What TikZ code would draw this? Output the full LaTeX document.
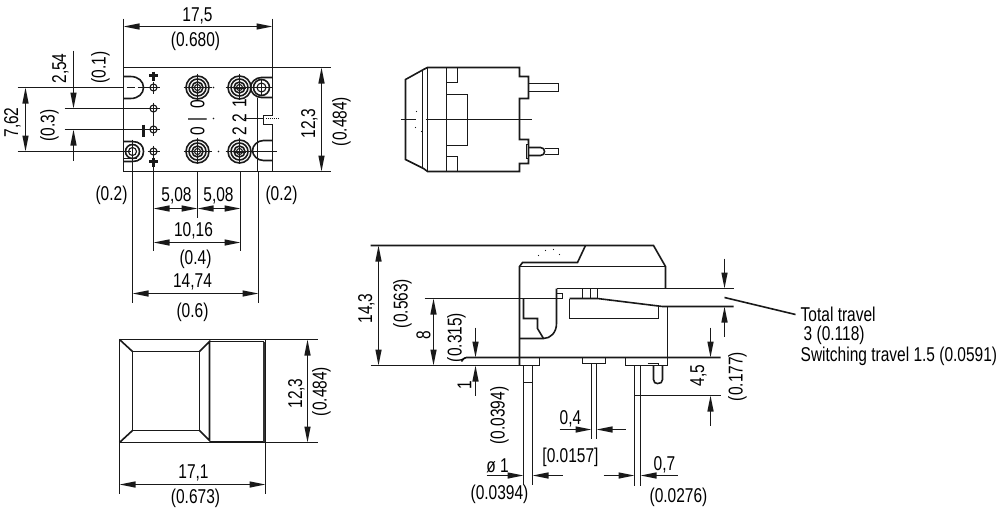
\documentclass[tikz,border=0pt]{standalone}
\usepackage{fontspec}
\setmainfont{Liberation Sans}[FakeStretch=0.775]
\usetikzlibrary{arrows.meta}
\tikzset{
  x=1pt,y=-1pt,
  outline/.style={line width=1.6pt,black!90,line join=miter},
  thin part/.style={line width=1.1pt,black!90},
  dimline/.style={line width=1.35pt,black!90},
  dimarrow/.style={line width=1.35pt,black!90,-{Triangle[length=16pt,width=6pt]}},
  dimboth/.style={line width=1.35pt,black!90,{Triangle[length=16pt,width=6pt]}-{Triangle[length=16pt,width=6pt]}},
  lbl/.style={inner sep=0pt,font=\fontsize{20}{22}\selectfont,text=black},
  vlbl/.style={lbl,rotate=90}
}
\newcommand{\bigterm}[2]{%
  \draw[outline] (#1,#2) circle[radius=11.5pt] (#1,#2) circle[radius=8.5pt] (#1,#2) circle[radius=5.5pt];
  \draw[thin part] (#1,#2) circle[radius=3pt];
  \draw[thin part] (#1-14,#2)--(#1+14,#2) (#1,#2-14)--(#1,#2+12);}
\newcommand{\smallterm}[2]{%
  \draw[thin part] (#1,#2) circle[radius=3.5pt];
  \draw[thin part] (#1-6,#2)--(#1+6,#2) (#1,#2-6)--(#1,#2+6);}
\begin{document}
\begin{tikzpicture}
\useasboundingbox (0,0) rectangle (1000,514);
\begin{scope}[shift={(0.5,0.5)}]
% ---- top view: frame and extension lines
\draw[outline] (123,18)--(123,171)--(330,171);
\draw[outline] (123,67)--(330,67);
\draw[outline] (272,18)--(272,115)--(262,115);
\draw[outline] (272,124)--(262,124);
\draw[outline] (272,124)--(272,171);
\draw[dimboth] (123,26)--(272,26);
\draw[dimboth] (321,67)--(321,171);
\node[lbl] (t175) at (197,15) {17,5};
\node[lbl] (t680) at (195,41) {(0.680)};
\node[vlbl] (t123a) at (309,123) {12,3};
\node[vlbl] (t484a) at (341,121) {(0.484)};
% left dimensions
\draw[dimline] (17,87)--(117,87) (17,151)--(130,151);
\draw[dimboth] (25,87)--(25,151);
\node[vlbl] (t762) at (12,122) {7,62};
\node[vlbl] (t03) at (49,125) {(0.3)};
\draw[dimline] (64,108)--(153,108) (64,129)--(150,129);
\draw[dimarrow] (73,50)--(73,108);
\draw[dimarrow] (73,160)--(73,129);
\node[vlbl] (t254) at (60,68) {2,54};
\node[vlbl] (t01) at (100,67) {(0.1)};
% left slots
\draw[outline] (123,76)--(130,76) .. controls (138,76) and (143,81) .. (143,87) .. controls (143,93) and (138,98) .. (130,98)--(123,98);
\draw[thin part] (117,87)--(122,87) (126,87)--(134,87) (137,87)--(147,87);
\draw[outline] (123,141)--(132,141) .. controls (139,141) and (143,145) .. (143,151) .. controls (143,157) and (139,161) .. (132,161)--(123,161);
\draw[thin part] (123,158)--(136,158);
\draw[outline] (132,151) circle[radius=7pt];
\draw[thin part] (132,151) circle[radius=4pt];
\draw[thin part] (132,139)--(132,171);
% small contacts
\smallterm{153}{87}\smallterm{153}{108}\smallterm{153}{129}\smallterm{153}{151}
\draw[outline] (153,108)--(153,129);
\draw[line width=3pt,black!90] (153,71)--(153,80) (148.5,75)--(157.5,75);
\draw[line width=3pt,black!90] (153,157)--(153,166) (148.5,161)--(157.5,161);
\draw[line width=3.5pt,black!90] (143,124)--(143,136);
% big terminals
\bigterm{197}{87}\bigterm{197}{151}\bigterm{239}{87}\bigterm{239}{151}
\draw[line width=2pt,black!90] (233,87)--(245,87) (233,151)--(245,151);
\fill[black!90] (213,87) circle[radius=.8pt] (218,151) circle[radius=.8pt] (213,118) circle[radius=.8pt];
\node[vlbl] (n0a) at (197,104) {0};
\node[vlbl] (nIa) at (197,119) {|};
\node[vlbl] (n0b) at (197,131) {0};
\node[vlbl] (n1a) at (239,103) {1};
\node[vlbl] (n2a) at (239,118) {2};
\node[vlbl] (n2b) at (239,131) {2};
% right slots
\draw[outline] (272,77)--(261,77) .. controls (255,77) and (250,82) .. (250,87) .. controls (250,92) and (255,97) .. (261,97)--(272,97);
\draw[outline] (261,87) circle[radius=8pt];
\draw[thin part] (261,87) circle[radius=4.5pt];
\draw[thin part] (253,87)--(272,87) (261,79)--(261,95);
\draw[outline] (257,97)--(257,171);
\draw[thin part] (263,115)--(263,124) (243,118)--(257,118);
\draw[thin part] (257,118)--(263,118);
\draw[thin part,densely dotted] (265,118)--(278,118);
\draw[outline] (272,140)--(263,140) .. controls (257,140) and (252,145) .. (252,150) .. controls (252,155) and (257,160) .. (263,160)--(272,160);
\draw[thin part] (225,151)--(276,151);
% extension lines below
\draw[dimline] (132,171)--(132,302) (153,166)--(153,250) (197,171)--(197,217) (240,171)--(240,250) (258,171)--(258,302);
\draw[dimboth] (153,208)--(197,208);
\draw[dimboth] (197,208)--(240,208);
\draw[dimboth] (153,242)--(240,242);
\draw[dimboth] (132,293)--(258,293);
\node[lbl] (l1) at (111,195) {(0.2)};
\node[lbl] (l2) at (281,195) {(0.2)};
\node[lbl] (l3) at (176,195) {5,08};
\node[lbl] (l4) at (218,195) {5,08};
\node[lbl] (l5) at (193,230) {10,16};
\node[lbl] (l6) at (195,259) {(0.4)};
\node[lbl] (l7) at (192,281) {14,74};
\node[lbl] (l8) at (192,312) {(0.6)};
% ---- bottom left view
\draw[outline] (119,493)--(119,339)--(317,339);
\draw[outline] (119,442)--(317,442);
\draw[outline] (265,339)--(265,493);
\draw[outline] (132,351) rectangle (199,430);
\draw[outline] (119,339)--(132,351) (119,442)--(132,430);
\draw[outline] (199,351)--(209,341)--(209,440)--(199,430);
\draw[outline] (209,341)--(263,341)--(263,441)--(209,441);
\draw[line width=2.5pt,black!80] (263.5,341)--(263.5,441);
\draw[dimboth] (307,339)--(307,442);
\draw[dimboth] (119,484)--(265,484);
\node[vlbl] (b1) at (296,393) {12,3};
\node[vlbl] (b2) at (321,391) {(0.484)};
\node[lbl] (b3) at (193,472) {17,1};
\node[lbl] (b4) at (195,498) {(0.673)};
% ---- top right view
\draw[outline] (427,67)--(423,69)--(405,79)--(405,159)--(423,168)--(427,171)--(519,171)--(519,163)--(528,163)--(528,139)--(519,139)--(519,98)--(528,98)--(528,76)--(519,76)--(519,67)--cycle;
\draw[outline] (422,69)--(422,168) (427,67)--(427,171) (446,67)--(446,171);
\draw[outline] (446,82)--(457,82)--(457,67) (446,94)--(467,94)--(467,145)--(446,145) (446,156)--(457,156)--(457,171);
\draw[outline] (400,119)--(415,119) (425,119)--(531,119);
\draw[outline] (528,83) rectangle (558,91);
\draw[outline] (526,144) rectangle (528,158);
\draw[outline] (528,147)--(540,147) .. controls (543,147) and (544,149) .. (544,151) .. controls (544,153) and (543,155) .. (540,155)--(528,155);
\draw[outline] (544,148)--(558,148)--(558,154)--(544,154);
\fill[black!90] (416,111) circle[radius=.7pt] (415,127) circle[radius=.7pt] (421,131) circle[radius=.7pt];
% ---- side view
\draw[outline] (370,245)--(653,245)--(665,266)--(665,288);
\draw[outline] (585,245)--(577,262)--(522,262)--(519,266)--(519,365);
\draw[outline] (519,266)--(665,266);
\draw[outline] (556,288)--(733,288);
\draw[outline] (556,288)--(556,323) .. controls (556,332) and (550,338) .. (543,338)--(519,338);
\draw[outline] (543,338)--(537,328)--(537,318)--(523,318)--(523,298);
\draw[outline] (424,298)--(556,298);
\draw[outline] (556,293)--(562,293)--(562,298)--(556,298);
\draw[outline] (569,298)--(597,298)--(662,306)--(733,306);
\draw[outline] (569,298)--(569,318)--(658,318)--(658,306);
\draw[outline] (582,288)--(582,298) (590,288)--(590,298) (597,288)--(597,298);
\draw[outline] (667,306)--(667,365)--(625,365)--(625,357);
\draw[outline] (724,297)--(795,314);
\draw[dimarrow] (724,258)--(724,288);
\draw[dimarrow] (724,336)--(724,306);
\draw[outline] (461,361) .. controls (463,358) and (464,357) .. (466,357)--(720,357);
\draw[outline] (370,365)--(539,365)--(539,357);
\draw[outline] (582,357)--(582,363)--(605,363)--(605,357);
% pins
\draw[outline] (523,365)--(523,484) (532,365)--(532,484) (523,382)--(532,382);
\draw[outline] (591,363)--(591,438) (596,363)--(596,438);
\draw[outline] (634,365)--(634,485) (640,365)--(640,485);
\draw[outline] (653,365)--(653,379) .. controls (653,382) and (655,383) .. (657,383) .. controls (660,383) and (662,382) .. (662,379)--(662,365);
\draw[outline] (647,363)--(658,363)--(658,365);
% dims
\draw[dimboth] (378,245)--(378,365);
\draw[dimboth] (433,298)--(433,365);
\draw[dimarrow] (475,327)--(475,357);
\draw[dimarrow] (475,395)--(475,365);
\draw[dimarrow] (710,327)--(710,357);
\draw[dimarrow] (710,425)--(710,395);
\draw[dimline] (634,395)--(720,395);
\draw[dimarrow] (559,429)--(591,429);
\draw[dimarrow] (625,429)--(596,429);
\draw[dimarrow] (486,475)--(523,475);
\draw[dimarrow] (562,475)--(532,475);
\draw[dimarrow] (603,475)--(634,475);
\draw[dimarrow] (677,475)--(640,475);
\fill[black!90] (538,255) circle[radius=.6pt] (545,250) circle[radius=.6pt] (553,249) circle[radius=.6pt] (559,254) circle[radius=.6pt];
\node[vlbl] (s1) at (366,308) {14,3};
\node[vlbl] (s2) at (402,303) {(0.563)};
\node[vlbl] (s3) at (423,335) {8};
\node[vlbl] (s4) at (456,337) {(0.315)};
\node[vlbl] (s5) at (464,385) {1};
\node[vlbl] (s6) at (499,415) {(0.0394)};
\node[vlbl] (s7) at (698,375) {4,5};
\node[vlbl] (s8) at (737,376) {(0.177)};
\node[lbl] (s9) at (570,418) {0,4};
\node[lbl] (s10) at (570,457) {[0.0157]};
\node[lbl] (s11) at (497,465) {ø 1};
\node[lbl] (s12) at (499,494) {(0.0394)};
\node[lbl] (s13) at (664,464) {0,7};
\node[lbl] (s14) at (678,497) {(0.0276)};
\node[lbl,anchor=west] (s15) at (800,314) {Total travel};
\node[lbl,anchor=west] (s16) at (803,335) {3 (0.118)};
\node[lbl,anchor=west] (s17) at (800,356) {Switching travel 1.5 (0.0591)};
\end{scope}
\end{tikzpicture}
\end{document}
